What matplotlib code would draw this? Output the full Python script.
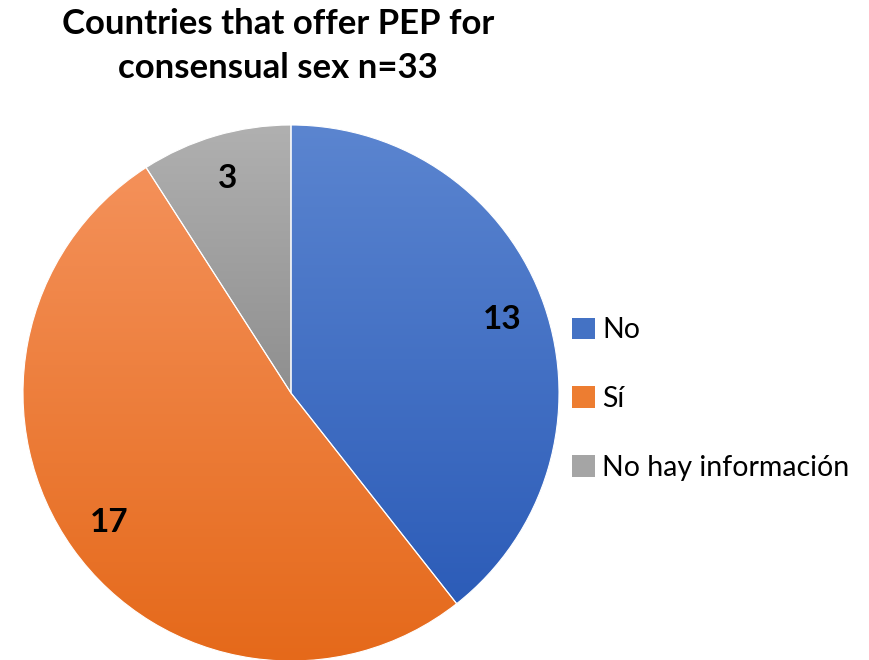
import numpy as np
import matplotlib
matplotlib.use("Agg")
import matplotlib.pyplot as plt
from matplotlib.colors import LinearSegmentedColormap
from matplotlib.patches import Patch

plt.rcParams['font.family'] = ['Lato', 'DejaVu Sans']

title = "Countries that offer PEP for\nconsensual sex n=33"
categories = ["No", "Sí", "No hay información"]
values = [13, 17, 3]
top_colors = ["#5B85D0", "#F4915A", "#B0B0B0"]
bottom_colors = ["#2C5CB8", "#E5691A", "#8F8F8F"]
mid_colors = ["#4472C4", "#ED7D31", "#A5A5A5"]

W, H = 869, 660
fig = plt.figure(figsize=(W / 100, H / 100), dpi=100)
cx, cy, r = 291, 393, 268
ax = fig.add_axes([(cx - r) / W, (H - cy - r) / H, 2 * r / W, 2 * r / H])

wedges, texts, autotexts = ax.pie(
    values, startangle=90, counterclock=False, colors=mid_colors,
    autopct=lambda p: f"{int(round(p * sum(values) / 100))}",
    pctdistance=0.835, radius=1,
    wedgeprops=dict(edgecolor="white", linewidth=0.8),
    textprops=dict(fontsize=24, fontweight="bold", color="black"))
ax.set_xlim(-1, 1)
ax.set_ylim(-1, 1)
ax.set_aspect("equal")
ax.axis("off")

grad = np.linspace(0, 1, 256).reshape(-1, 1)
for w, tc, bc in zip(wedges, top_colors, bottom_colors):
    ext = w.get_path().get_extents()
    cmap = LinearSegmentedColormap.from_list("g", [tc, bc])
    im = ax.imshow(grad, cmap=cmap, aspect="auto",
                   extent=[ext.x0, ext.x1, ext.y0, ext.y1], origin="upper",
                   zorder=w.get_zorder() - 0.01)
    im.set_clip_path(w)
    w.set_facecolor("none")
ax.set_xlim(-1, 1)
ax.set_ylim(-1, 1)

fig.text(0.32, 0.988, title, ha="center", va="top", fontsize=25,
         fontweight="bold", linespacing=1.45)

handles = [Patch(facecolor=c, edgecolor="none") for c in mid_colors]
fig.legend(handles, categories, loc="center left",
           bbox_to_anchor=(561 / W, 1 - 399 / H), frameon=False,
           fontsize=20.5, handlelength=0.8, handleheight=0.8,
           handletextpad=0.25, labelspacing=1.5, borderaxespad=0)

fig.savefig("out.png", dpi=100)
